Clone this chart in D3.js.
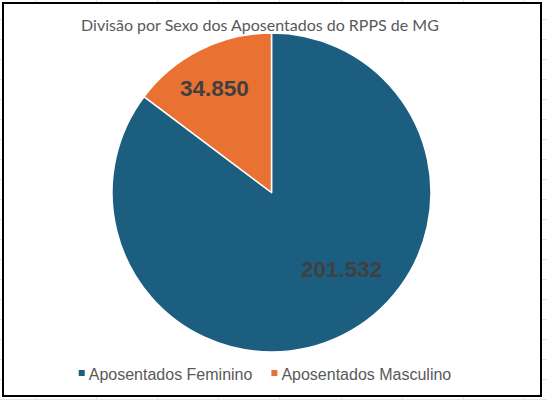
<!DOCTYPE html>
<html>
<head>
<meta charset="utf-8">
<script src="https://cdn.jsdelivr.net/npm/d3@7"></script>
<style>
  body { margin: 0; background: #fff; }
  svg { display: block; }
</style>
</head>
<body>
<svg id="pie-chart" width="547" height="400"></svg>
<script>
const svg = d3.select("#pie-chart");

const width = 547;
const height = 400;

const chartTitle = "Divisão por Sexo dos Aposentados do RPPS de MG";
const categories = ["Aposentados Feminino", "Aposentados Masculino"];
const values = [201532, 34850];
const valueLabels = ["201.532", "34.850"];

const sliceColors = ["#1b5e80", "#e97132"];

// Excel "best fit" label spots: radius factor and angle shift (deg) per slice
const labelPlacement = [
  { radius: 0.65, shift: -16 },
  { radius: 0.75, shift: -2 }
];

const pieData = categories.map((c, i) => ({ category: c, value: values[i], label: valueLabels[i], index: i }));

// spreadsheet gridlines behind the chart object
const grid = svg.append("g").attr("class", "sheet-grid");
d3.range(35, width, 61.1).forEach(x => {
  grid.append("line")
    .attr("x1", Math.round(x) + 0.5).attr("x2", Math.round(x) + 0.5)
    .attr("y1", 0).attr("y2", height)
    .attr("stroke", "#e3e3e3");
});
d3.range(19, height, 20).forEach(y => {
  grid.append("line")
    .attr("x1", 0).attr("x2", width)
    .attr("y1", y + 0.5).attr("y2", y + 0.5)
    .attr("stroke", "#e3e3e3");
});

// chart frame
svg.append("rect")
  .attr("x", 3)
  .attr("y", 3)
  .attr("width", 538)
  .attr("height", 393)
  .attr("fill", "#fff")
  .attr("stroke", "#000")
  .attr("stroke-width", 2);

svg.append("text")
  .attr("x", 260)
  .attr("y", 31)
  .attr("text-anchor", "middle")
  .attr("font-family", "Lato, 'Open Sans', sans-serif")
  .attr("font-size", 16)
  .attr("fill", "#595959")
  .text(chartTitle);

const cx = 271.5;
const cy = 192.5;
const radius = 159.5;

const pie = d3.pie()
  .sort(null)
  .value(d => d.value);

const arc = d3.arc()
  .innerRadius(0)
  .outerRadius(radius);

const arcs = pie(pieData);

const g = svg.append("g")
  .attr("transform", `translate(${cx},${cy})`);

g.selectAll("path.slice")
  .data(arcs)
  .join("path")
  .attr("class", "slice")
  .attr("d", arc)
  .attr("fill", d => sliceColors[d.data.index])
  .attr("stroke", "#fff")
  .attr("stroke-width", 1.5)
  .attr("stroke-linejoin", "round");

g.selectAll("text.value-label")
  .data(arcs)
  .join("text")
  .attr("class", "value-label")
  .attr("transform", d => {
    const p = labelPlacement[d.data.index];
    const a = (d.startAngle + d.endAngle) / 2 + p.shift * Math.PI / 180;
    const r = radius * p.radius;
    return `translate(${r * Math.sin(a)},${-r * Math.cos(a)})`;
  })
  .attr("text-anchor", "middle")
  .attr("dy", "0.36em")
  .attr("font-family", "'Liberation Sans', Arial, sans-serif")
  .attr("font-weight", "bold")
  .attr("font-size", 22.5)
  .attr("fill", "#404040")
  .text(d => d.data.label);

// legend
const legend = svg.append("g").attr("class", "legend");
const items = legend.selectAll("g.legend-item")
  .data(pieData)
  .join("g")
  .attr("class", "legend-item");

items.append("rect")
  .attr("width", 6)
  .attr("height", 6)
  .attr("y", -10)
  .attr("fill", d => sliceColors[d.index]);

items.append("text")
  .attr("x", 10)
  .attr("font-family", "'Liberation Sans', Arial, sans-serif")
  .attr("font-size", 16)
  .attr("fill", "#595959")
  .text(d => d.category);

let offset = 0;
const itemWidths = [];
items.each(function () {
  const w = 10 + d3.select(this).select("text").node().getComputedTextLength();
  itemWidths.push(w);
});
const gap = 19;
const totalWidth = d3.sum(itemWidths) + gap * (itemWidths.length - 1);
items.attr("transform", (d, i) => {
  const x = offset;
  offset += itemWidths[i] + gap;
  return `translate(${x},0)`;
});
legend.attr("transform", `translate(${265 - totalWidth / 2},380)`);
</script>
</body>
</html>
